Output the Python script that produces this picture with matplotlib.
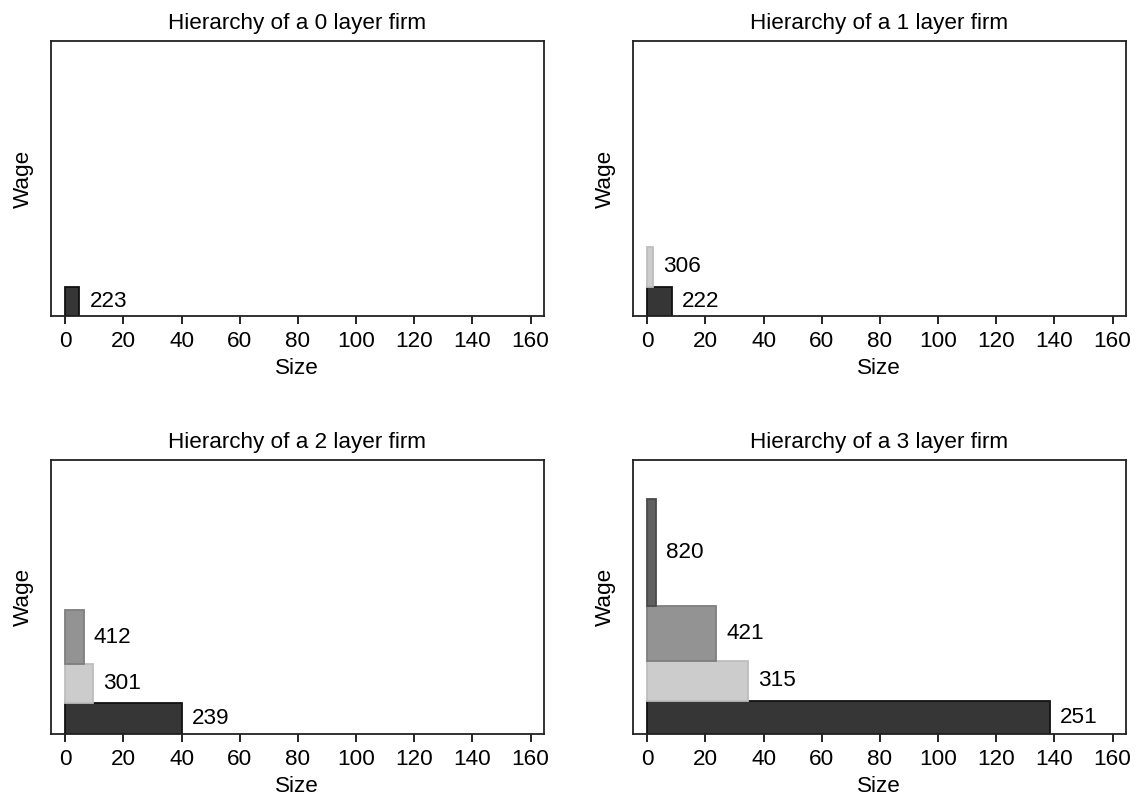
import matplotlib
matplotlib.use("Agg")
import matplotlib.pyplot as plt
import numpy as np

plt.rcParams['font.family'] = ['Liberation Sans', 'DejaVu Sans']

titles = ["Hierarchy of a 0 layer firm", "Hierarchy of a 1 layer firm",
          "Hierarchy of a 2 layer firm", "Hierarchy of a 3 layer firm"]

# size (number of workers) per layer, bottom layer first
sizes_0 = [4.9]
sizes_1 = [8.6, 2.0]
sizes_2 = [40.0, 9.5, 6.3]
sizes_3 = [138.4, 34.7, 23.8, 2.9]

# wage per layer, bottom layer first
wages_0 = [223]
wages_1 = [222, 306]
wages_2 = [239, 301, 412]
wages_3 = [251, 315, 421, 820]

x_ticks = [0, 20, 40, 60, 80, 100, 120, 140, 160]

layer_fill = ['#363636', '#cccccc', '#939393', '#606060']
layer_edge = ['#111111', '#bdbdbd', '#7e7e7e', '#4a4a4a']

sizes = [sizes_0, sizes_1, sizes_2, sizes_3]
wages = [wages_0, wages_1, wages_2, wages_3]

W, H = 1139, 796
fig = plt.figure(figsize=(W / 100, H / 100), dpi=100)

boxes = [
    (50.7, 41.3, 544.0, 315.7),
    (632.7, 41.3, 1126.0, 315.7),
    (50.7, 460.0, 544.0, 734.0),
    (632.7, 460.0, 1126.0, 734.0),
]

FS = 16.2
for i, (l, t, r, b) in enumerate(boxes):
    ax = fig.add_axes([l / W, 1 - b / H, (r - l) / W, (b - t) / H])
    s = sizes[i]
    w = wages[i]
    bottoms = np.concatenate([[0], np.cumsum(w)[:-1]])
    for k in range(len(s)):
        ax.barh(bottoms[k], s[k], height=w[k], left=0, align='edge',
                color=layer_fill[k], edgecolor=layer_edge[k], linewidth=1.3, zorder=2)
        ax.annotate(str(w[k]), xy=(s[k], bottoms[k] + w[k] / 2),
                    xytext=(7.2, 0), textcoords='offset points',
                    ha='left', va='center', fontsize=FS, color='black')
    ax.set_xlim(-5, 164.6)
    ax.set_ylim(0, 2110)
    ax.set_xticks(x_ticks)
    ax.set_yticks([])
    ax.tick_params(axis='x', direction='out', length=6, width=1.2, labelsize=FS, pad=5)
    for sp in ax.spines.values():
        sp.set_linewidth(1.3)
        sp.set_color('#222222')
    ax.set_title(titles[i], fontsize=FS, pad=9)
    ax.set_xlabel("Size", fontsize=FS, labelpad=4)
    ax.set_ylabel("Wage", fontsize=FS, labelpad=12)

fig.savefig("out.png", dpi=100)
